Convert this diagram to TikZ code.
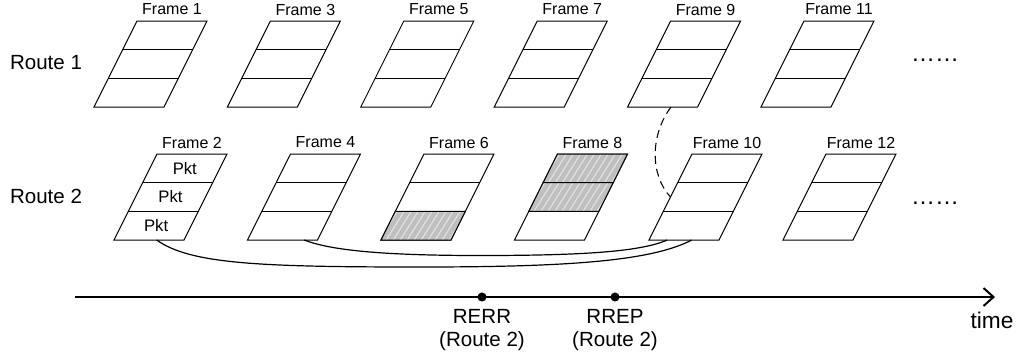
\documentclass[tikz,border=0pt]{standalone}
\usepackage{fontspec}
\setmainfont{Liberation Sans}
\usetikzlibrary{arrows.meta,calc}

\tikzset{
  frameline/.style={draw=black, line width=0.75pt, line join=miter},
  flabel/.style={font=\fontsize{12}{14}\selectfont, inner sep=0pt},
  pkt/.style={font=\fontsize{12.5}{14}\selectfont, inner sep=0pt},
  big/.style={font=\fontsize{15.4}{17.8}\selectfont, inner sep=0pt, align=center},
  timetext/.style={font=\fontsize{17}{20}\selectfont, inner sep=0pt},
  stripe/.style={draw=gray!22, line width=0.8pt},
  shade/.style={fill=gray!50},
  link/.style={draw=black, line width=0.9pt},
  retry/.style={draw=black, line width=0.8pt, dash pattern=on 6pt off 3.8pt},
  axis/.style={draw=black, line width=1.5pt, -{Straight Barb[length=7.5pt,width=13.5pt]}},
  evdot/.style={circle, fill=black, minimum size=6.8pt, inner sep=0pt},
  % one frame: a slanted box split into three slots; origin is the top-left corner
  frm/.pic={
    \coordinate (-a0) at (0,0);         \coordinate (-b0) at (70,0);
    \coordinate (-a1) at (-14.33,28.67); \coordinate (-b1) at (55.67,28.67);
    \coordinate (-a2) at (-28.67,57.33); \coordinate (-b2) at (41.33,57.33);
    \coordinate (-a3) at (-43,86);       \coordinate (-b3) at (27,86);
    \draw[frameline] (-a0) -- (-b0) -- (-b3) -- (-a3) -- cycle;
    \draw[frameline] (-a1) -- (-b1) (-a2) -- (-b2);
    \node[flabel] (-lbl) at (35,-11.5) {\tikzpictext};
  }
}

% hatched slot: frame name, upper and lower boundary index
\newcommand\hatchslot[3]{%
  \begin{scope}
    \clip (#1-a#2) -- (#1-b#2) -- (#1-b#3) -- (#1-a#3) -- cycle;
    \fill[shade] ($(#1-a#3)+(-2,2)$) rectangle ($(#1-b#2)+(2,-2)$);
    \foreach \k in {0,...,19}
      \draw[stripe] ($(#1-a#3)+(\k*7-24,2)$) -- ++(20,-32);
  \end{scope}
  \draw[frameline] (#1-a#2) -- (#1-b#2) -- (#1-b#3) -- (#1-a#3) -- cycle;
}

\begin{document}
\begin{tikzpicture}[x=0.75pt,y=-0.75pt]
\useasboundingbox (0,0) rectangle (1020,362);

% route labels
\node[big] (r1) at (46,63) {Route 1};
\node[big] (r2) at (46,196) {Route 2};

% frames of route 1
\pic[pic text=Frame 1]  (f1)  at (137,21)   {frm};
\pic[pic text=Frame 3]  (f3)  at (270.4,21) {frm};
\pic[pic text=Frame 5]  (f5)  at (403.8,21) {frm};
\pic[pic text=Frame 7]  (f7)  at (537.2,21) {frm};
\pic[pic text=Frame 9]  (f9)  at (670.6,21) {frm};
\pic[pic text=Frame 11] (f11) at (804,21)   {frm};

% frames of route 2
\pic[pic text=Frame 2]  (f2)  at (157,154)   {frm};
\pic[pic text=Frame 4]  (f4)  at (290.5,154) {frm};
\pic[pic text=Frame 6]  (f6)  at (424,154)   {frm};
\pic[pic text=Frame 8]  (f8)  at (557.5,154) {frm};
\pic[pic text=Frame 10] (f10) at (692,154)   {frm};
\pic[pic text=Frame 12] (f12) at (826,154)   {frm};

% lost slots
\hatchslot{f6}{2}{3}
\hatchslot{f8}{0}{1}
\hatchslot{f8}{1}{2}

% packets queued in frame 2
\node[pkt] (p1) at ($(f2-a0)!0.5!(f2-b1)$) {Pkt};
\node[pkt] (p2) at ($(f2-a1)!0.5!(f2-b2)$) {Pkt};
\node[pkt] (p3) at ($(f2-a2)!0.5!(f2-b3)$) {Pkt};

% continuation marks
\node[big] (m1) at (935,60)  {\fontsize{18}{20}\selectfont ……};
\node[big] (m2) at (935,203) {\fontsize{18}{20}\selectfont ……};

% packets carried over to frame 10
\coordinate (s2)  at ($(f2-a3)!0.61!(f2-b3)$);
\coordinate (s4)  at ($(f4-a3)!0.81!(f4-b3)$);
\coordinate (e2)  at ($(f10-a3)!0.61!(f10-b3)$);
\coordinate (e4)  at ($(f10-a3)!0.26!(f10-b3)$);
\draw[link] (s2) .. controls (190,264) and (260,267) .. (420,267)
                 .. controls (560,267) and (650,262) .. (e2);
\draw[link] (s4) .. controls (330,250) and (380,255.5) .. (480,255.5)
                 .. controls (580,255.5) and (640,252) .. (e4);

% switch from route 1 to route 2
\coordinate (d0) at ($(f9-a3)!0.62!(f9-b3)$);
\coordinate (d1) at ($(f10-a1)!0.5!(f10-a2)$);
\draw[retry] (d0) .. controls (650,135) and (650,175) .. (d1);

% time axis with route events
\coordinate (t0) at (75,297);
\coordinate (t1) at (995,297);
\draw[axis] (t0) -- (t1);
\node[evdot] (rerr) at (482,297) {};
\node[evdot] (rrep) at (615,297) {};
\node[big] (rerrl) at (482,330) {RERR\\(Route 2)};
\node[big] (rrepl) at (615,330) {RREP\\(Route 2)};
\node[timetext] (tl) at (992,320) {time};
\end{tikzpicture}
\end{document}
